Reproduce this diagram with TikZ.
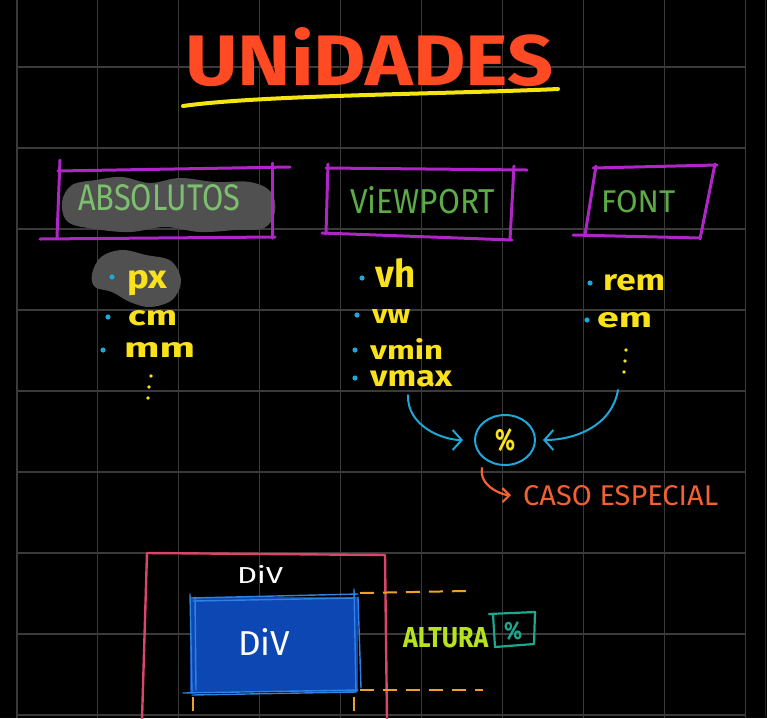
\documentclass[tikz,border=0pt]{standalone}
\usepackage{fontspec}
\setmainfont{Fira Sans}
\usetikzlibrary{arrows.meta,shapes.geometric}

\definecolor{bgblack}{HTML}{000000}
\definecolor{gridgray}{HTML}{3A3A3A}
\definecolor{titlered}{HTML}{FF4A24}
\definecolor{markyellow}{HTML}{F5E50E}
\definecolor{boxpurple}{HTML}{B025C8}
\definecolor{lightgreen}{HTML}{7DBF6E}
\definecolor{headgreen}{HTML}{5CAB46}
\definecolor{blobgray}{HTML}{505050}
\definecolor{dotcyan}{HTML}{1FA7D8}
\definecolor{itemyellow}{HTML}{F9E21C}
\definecolor{noteorange}{HTML}{F2612F}
\definecolor{framepink}{HTML}{D9456B}
\definecolor{divfill}{HTML}{0C47B3}
\definecolor{divline}{HTML}{2E82E3}
\definecolor{guideorange}{HTML}{F0A028}
\definecolor{limegreen}{HTML}{B6E31E}
\definecolor{tealbox}{HTML}{1AA890}

% scale a text to a given width and height (in pt)
\newcommand\fitto[3]{\resizebox{#1pt}{#2pt}{#3}}

\tikzset{
  gridline/.style={draw=gridgray, line width=1.1pt},
  lbl/.style={inner sep=0pt, anchor=base west},
  pbox/.style={draw=boxpurple, line width=3pt, line cap=round},
  item/.style={lbl, text=itemyellow, font=\bfseries},
  bullet/.style={fill=dotcyan},
  vdot/.style={fill=itemyellow},
  cyanarrow/.style={draw=dotcyan, line width=2pt, line cap=round,
    -{Straight Barb[length=9pt,width=20pt,line width=2pt]}},
  guide/.style={draw=guideorange, line width=2pt, dash pattern=on 14pt off 9pt},
  divstroke/.style={draw=divline, line width=1.4pt, line cap=round},
}

\begin{document}
\begin{tikzpicture}[x=1pt,y=-1pt]
  \fill[bgblack] (0,0) rectangle (767,718);
  \useasboundingbox (0,0) rectangle (767,718);

  % background grid
  \foreach \i in {0,...,9}
    \draw[gridline] ({17+80.9*\i},0) -- ({17+80.9*\i},718);
  \foreach \j in {0,...,8}
    \draw[gridline] (17,{67+81*\j}) -- (746,{67+81*\j});
  \draw[draw=gridgray!60!black, line width=1pt] (765,0) -- (765,718);

  % title
  \node[lbl, text=titlered, font=\bfseries] (title) at (185,85) {\fitto{368}{58}{UNiDADES}};
  \draw[draw=markyellow, line width=4pt, line cap=round]
    (183,106) .. controls (260,95) and (450,94) .. (558,89);

  % highlight blobs
  \fill[blobgray] plot[smooth cycle, tension=0.6] coordinates {
    (62,202) (72,185) (96,180) (122,177) (150,183) (180,178) (215,182)
    (250,182) (271,192) (275,212) (264,228) (235,230) (200,232) (165,227)
    (130,232) (95,229) (68,222)};
  \fill[blobgray] plot[smooth cycle, tension=0.6] coordinates {
    (92,274) (101,257) (122,250) (146,255) (171,261) (181,281) (172,300)
    (150,307) (130,302) (112,292) (95,287)};

  % category headings
  \node[lbl, text=lightgreen] (abs) at (78,210) {\fitto{162}{26}{ABSOLUTOS}};
  \node[lbl, text=headgreen] (vp) at (350,213) {\fitto{145}{27}{ViEWPORT}};
  \node[lbl, text=headgreen] (font) at (601,212) {\fitto{74}{22}{FONT}};

  % heading frames
  \draw[pbox] (58,171) -- (290,167);
  \draw[pbox] (272,163) -- (272,238);
  \draw[pbox] (40,239) -- (275,237);
  \draw[pbox] (60,160) -- (57,237);

  \draw[pbox] (326,168) -- (527,170);
  \draw[pbox] (514,166) -- (510,240);
  \draw[pbox] (322,233) -- (512,240);
  \draw[pbox] (328,164) -- (326,234);

  \draw[pbox] (593,168) -- (717,165);
  \draw[pbox] (715,164) -- (700,239);
  \draw[pbox] (573,235) -- (700,238);
  \draw[pbox] (596,166) -- (585,235);

  % absolute units
  \fill[bullet] (112,277) circle (2.6);
  \node[item] (px) at (127,288) {\fitto{40}{18}{px}};
  \fill[bullet] (108,317) circle (2.6);
  \node[item] (cm) at (128,325) {\fitto{49}{15}{cm}};
  \fill[bullet] (103,350) circle (2.6);
  \node[item] (mm) at (124,357) {\fitto{71}{15}{mm}};
  \foreach \yy/\xx in {376/151, 387/149, 398/148}
    \fill[vdot] (\xx,\yy) circle (1.8);

  % viewport units
  \fill[bullet] (362,278) circle (2.6);
  \node[item] (vh) at (375,287) {\fitto{40}{29}{vh}};
  \fill[bullet] (357,315) circle (2.6);
  \node[item] (vw) at (372,323) {\fitto{38}{14}{vw}};
  \fill[bullet] (355,350) circle (2.6);
  \node[item] (vmin) at (370,359) {\fitto{73}{21}{vmin}};
  \fill[bullet] (355,378) circle (2.6);
  \node[item] (vmax) at (370,386) {\fitto{82}{16}{vmax}};

  % font units
  \fill[bullet] (590,283) circle (2.6);
  \node[item] (rem) at (603,290) {\fitto{62}{16}{rem}};
  \fill[bullet] (587,320) circle (2.6);
  \node[item] (em) at (597,327) {\fitto{55}{15}{em}};
  \foreach \yy/\xx in {350/626, 361/625, 372/624}
    \fill[vdot] (\xx,\yy) circle (1.9);

  % percent as a special case
  \node[ellipse, draw=dotcyan, line width=2pt, minimum width=60pt, minimum height=50pt,
        inner sep=0pt, text=itemyellow, font=\bfseries] (pct) at (505,440) {\fitto{20}{22}{\%}};
  \coordinate (fromvmax) at (408,395);
  \coordinate (fromfont) at (618,390);
  \draw[cyanarrow, shorten >=11pt] (fromvmax) to[out=-92, in=180] (pct);
  \draw[cyanarrow, shorten >=7pt] (fromfont) to[out=-100, in=0] (pct);

  \node[lbl, text=noteorange] (caso) at (523,505) {\fitto{195}{20}{CASO ESPECIAL}};
  \coordinate (hookstart) at (482,468);
  \draw[draw=noteorange, line width=2.2pt, line cap=round,
        -{Straight Barb[length=7pt,width=14pt,line width=2.2pt]}, shorten >=12pt]
    (hookstart) to[out=-100, in=180] (caso.west);

  % outer div
  \draw[draw=framepink, line width=2.4pt, line cap=round, line join=round]
    (142,720) -- (147,553) -- (385,555) -- (387,720);
  \node[lbl, text=white] (outerdiv) at (237,583) {\fitto{46}{18}{DiV}};

  % inner div
  \fill[divfill] (190,597) rectangle (358,692);
  \draw[divstroke] (192,598) -- (358,594);
  \draw[divstroke] (193,601) -- (355,598);
  \draw[divstroke] (190,594) -- (192,692);
  \draw[divstroke] (195,597) -- (196,690);
  \draw[divstroke] (354,589) -- (356,692);
  \draw[divstroke] (358,597) -- (361,688);
  \draw[divstroke] (183,693) -- (358,690);
  \draw[divstroke] (192,695) -- (356,692);
  \node[lbl, text=white] (innerdiv) at (238,655) {\fitto{52}{27}{DiV}};

  % height guides
  \draw[guide] (360,593) -- (466,591);
  \draw[guide] (360,690) -- (483,690);
  \draw[guide] (193,697) -- (193,720);
  \draw[guide] (354,697) -- (354,720);

  \node[lbl, text=limegreen, font=\bfseries] (altura) at (403,647) {\fitto{85}{20}{ALTURA}};
  \node[text=tealbox, inner sep=0pt, font=\bfseries] (pctbox) at (513,631) {\fitto{18}{18}{\%}};
  \draw[draw=tealbox, line width=2.2pt, line cap=round, line join=round]
    (489,614) -- (535,612) -- (534,644) -- (495,647) -- (493,614);
\end{tikzpicture}
\end{document}
